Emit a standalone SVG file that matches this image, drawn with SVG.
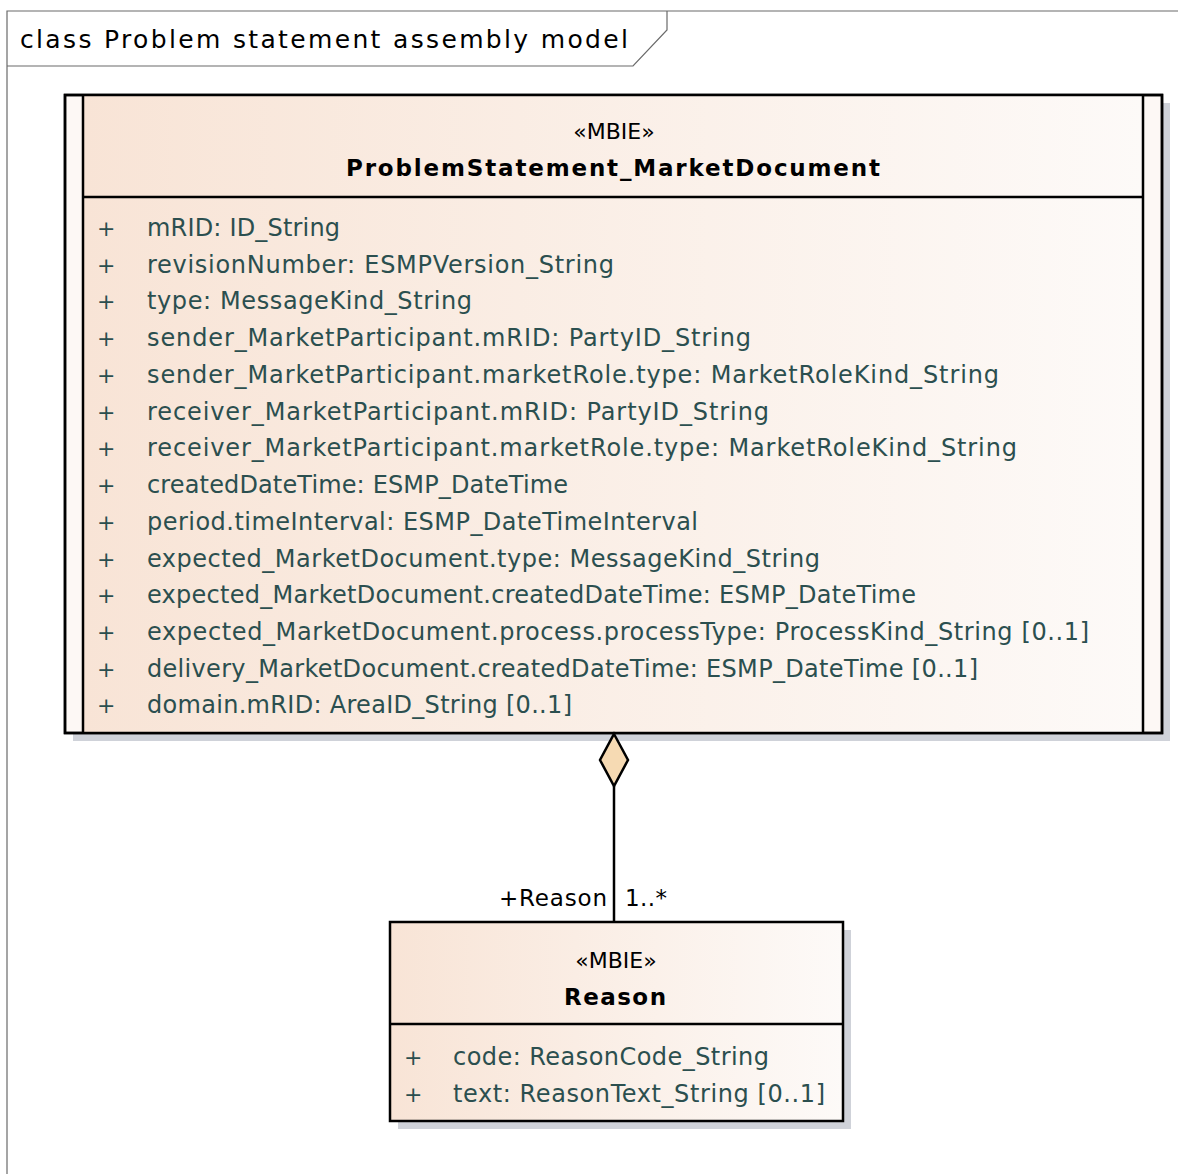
<svg xmlns="http://www.w3.org/2000/svg" width="1178" height="1174" viewBox="0 0 1178 1174">
<defs>
<linearGradient id="fillg" x1="0" y1="0" x2="1" y2="0">
<stop offset="0" stop-color="#f8e4d6"/>
<stop offset="1" stop-color="#fdfaf8"/>
</linearGradient>
<style>
.frame{fill:none;stroke:#6a6a6a;stroke-width:1.2}
.box{stroke:#000;stroke-width:2.5}
.shadow{fill:#cfd2d9}
.ln{stroke:#000;stroke-width:2.5;fill:none}
.attr{font-family:"DejaVu Sans",sans-serif;font-size:24px;fill:#2b4f4f}
.plus{font-family:"DejaVu Sans",sans-serif;font-size:22px;fill:#2b4f4f}
.stereo{font-family:"DejaVu Sans",sans-serif;font-size:22px;fill:#000;text-anchor:middle}
.name{font-family:"DejaVu Sans",sans-serif;font-size:23px;font-weight:bold;fill:#000;text-anchor:middle}
.title{font-family:"DejaVu Sans",sans-serif;font-size:25px;fill:#000}
.lbl{font-family:"DejaVu Sans",sans-serif;font-size:23px;fill:#000}
</style>
</defs>
<rect width="1178" height="1174" fill="#fff"/>
<g id="frame">
<path class="frame" d="M7 1174 V11 H1178"/>
<path class="frame" d="M7 66 H633 L667 30 V11"/>
<text class="title" x="20" y="48" textLength="608" lengthAdjust="spacing">class Problem statement assembly model</text>
</g>
<g id="ProblemStatement_MarketDocument">
<rect class="shadow" x="73" y="103" width="1097" height="638"/>
<rect x="65" y="95" width="1097" height="638" fill="#fdf8f5" class="box"/>
<rect x="83" y="95" width="1060" height="638" fill="url(#fillg)" stroke="none"/>
<line class="ln" x1="83" y1="95" x2="83" y2="733"/>
<line class="ln" x1="1143" y1="95" x2="1143" y2="733"/>
<rect x="65" y="95" width="1097" height="638" fill="none" class="box"/>
<line class="ln" x1="83" y1="197" x2="1143" y2="197"/>
<text class="stereo" x="614" y="139">«MBIE»</text>
<text class="name" x="613" y="176" textLength="534" lengthAdjust="spacing">ProblemStatement_MarketDocument</text>
<g class="plus">
<text x="97" y="236">+</text><text x="97" y="273">+</text><text x="97" y="309">+</text><text x="97" y="346">+</text><text x="97" y="383">+</text><text x="97" y="420">+</text><text x="97" y="456">+</text><text x="97" y="493">+</text><text x="97" y="530">+</text><text x="97" y="567">+</text><text x="97" y="603">+</text><text x="97" y="640">+</text><text x="97" y="677">+</text><text x="97" y="713">+</text>
</g>
<g class="attr">
<text x="147" y="236" textLength="193" lengthAdjust="spacing">mRID: ID_String</text>
<text x="147" y="273" textLength="467" lengthAdjust="spacing">revisionNumber: ESMPVersion_String</text>
<text x="147" y="309" textLength="325" lengthAdjust="spacing">type: MessageKind_String</text>
<text x="147" y="346" textLength="604" lengthAdjust="spacing">sender_MarketParticipant.mRID: PartyID_String</text>
<text x="147" y="383" textLength="852" lengthAdjust="spacing">sender_MarketParticipant.marketRole.type: MarketRoleKind_String</text>
<text x="147" y="420" textLength="622" lengthAdjust="spacing">receiver_MarketParticipant.mRID: PartyID_String</text>
<text x="147" y="456" textLength="870" lengthAdjust="spacing">receiver_MarketParticipant.marketRole.type: MarketRoleKind_String</text>
<text x="147" y="493" textLength="421" lengthAdjust="spacing">createdDateTime: ESMP_DateTime</text>
<text x="147" y="530" textLength="551" lengthAdjust="spacing">period.timeInterval: ESMP_DateTimeInterval</text>
<text x="147" y="567" textLength="673" lengthAdjust="spacing">expected_MarketDocument.type: MessageKind_String</text>
<text x="147" y="603" textLength="769" lengthAdjust="spacing">expected_MarketDocument.createdDateTime: ESMP_DateTime</text>
<text x="147" y="640" textLength="942" lengthAdjust="spacing">expected_MarketDocument.process.processType: ProcessKind_String [0..1]</text>
<text x="147" y="677" textLength="831" lengthAdjust="spacing">delivery_MarketDocument.createdDateTime: ESMP_DateTime [0..1]</text>
<text x="147" y="713" textLength="425" lengthAdjust="spacing">domain.mRID: AreaID_String [0..1]</text>
</g>
</g>
<g id="Reason">
<rect class="shadow" x="398" y="930" width="453" height="199"/>
<rect x="390" y="922" width="453" height="199" fill="url(#fillg)" class="box"/>
<line class="ln" x1="390" y1="1024" x2="843" y2="1024"/>
<text class="stereo" x="616" y="968">«MBIE»</text>
<text class="name" x="615" y="1005" textLength="102" lengthAdjust="spacing">Reason</text>
<text class="plus" x="404" y="1065">+</text>
<text class="plus" x="404" y="1102">+</text>
<text class="attr" x="453" y="1065" textLength="316" lengthAdjust="spacing">code: ReasonCode_String</text>
<text class="attr" x="453" y="1102" textLength="372" lengthAdjust="spacing">text: ReasonText_String [0..1]</text>
</g>
<g id="connectors">
<line class="ln" x1="614" y1="786" x2="614" y2="922"/>
<polygon points="614,734 628,760 614,786 600,760" fill="#f6dab3" stroke="#000" stroke-width="2.5"/>
<text class="lbl" x="607" y="906" text-anchor="end" textLength="108" lengthAdjust="spacing">+Reason</text>
<text class="lbl" x="625" y="906" textLength="42" lengthAdjust="spacing">1..*</text>
</g>
</svg>
